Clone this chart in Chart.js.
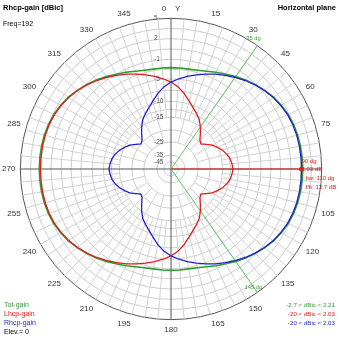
<!DOCTYPE html>
<html>
<head>
<meta charset="utf-8">
<script src="https://cdn.jsdelivr.net/npm/chart.js@4.4.1/dist/chart.umd.min.js"></script>
<style>
  html, body { margin: 0; padding: 0; background: #fff; }
  #wrap { width: 339px; height: 339px; }
</style>
</head>
<body>
<div id="wrap"><canvas id="polar" width="339" height="339"></canvas></div>
<script>
// Azimuth, one spoke every 5 degrees (0 = north, clockwise)
const angles = Array.from({ length: 72 }, (_, i) => i * 5);

// Gains in dBic, one value per azimuth step
const rhcpGain = [
  -5.7, -4.9, -4.2, -3.5, -2.8, -2.0, -1.3, -0.7, -0.15, 0.35, 0.8, 1.2,
  1.5, 1.75, 1.9, 1.98, 2.02, 2.03, 2.03, 2.03, 2.02, 1.98, 1.9, 1.75,
  1.5, 1.2, 0.8, 0.35, -0.15, -0.7, -1.3, -2.0, -2.8, -3.5, -4.2, -4.9,
  -5.7, -6.7, -8.0, -9.4, -10.8, -12.1, -13.4, -15.2, -17.4, -19.3, -20, -18.5,
  -16.6, -15.2, -14.0, -13.1, -12.4, -12.0, -11.7, -12.0, -12.4, -13.1, -14.0, -15.2,
  -16.6, -18.5, -20, -19.3, -17.4, -15.2, -13.4, -12.1, -10.8, -9.4, -8.0, -6.7
];
const lhcpGain = [
  -5.7, -6.7, -8.0, -9.4, -10.8, -12.1, -13.4, -15.2, -17.4, -19.3, -20, -18.5,
  -16.6, -15.2, -14.0, -13.1, -12.4, -12.0, -11.7, -12.0, -12.4, -13.1, -14.0, -15.2,
  -16.6, -18.5, -20, -19.3, -17.4, -15.2, -13.4, -12.1, -10.8, -9.4, -8.0, -6.7,
  -5.7, -4.9, -4.2, -3.5, -2.8, -2.0, -1.3, -0.7, -0.15, 0.35, 0.8, 1.2,
  1.5, 1.75, 1.9, 1.98, 2.02, 2.03, 2.03, 2.03, 2.02, 1.98, 1.9, 1.75,
  1.5, 1.2, 0.8, 0.35, -0.15, -0.7, -1.3, -2.0, -2.8, -3.5, -4.2, -4.9
];
const totGain = [
  -2.7, -2.7, -2.69, -2.51, -2.16, -1.59, -1.04, -0.55, -0.07, 0.4, 0.84, 1.25,
  1.57, 1.84, 2.01, 2.11, 2.17, 2.2, 2.21, 2.2, 2.17, 2.11, 2.01, 1.84,
  1.57, 1.25, 0.84, 0.4, -0.07, -0.55, -1.04, -1.59, -2.16, -2.51, -2.69, -2.7,
  -2.7, -2.7, -2.69, -2.51, -2.16, -1.59, -1.04, -0.55, -0.07, 0.4, 0.84, 1.25,
  1.57, 1.84, 2.01, 2.11, 2.17, 2.2, 2.21, 2.2, 2.17, 2.11, 2.01, 1.84,
  1.57, 1.25, 0.84, 0.4, -0.07, -0.55, -1.04, -1.59, -2.16, -2.51, -2.69, -2.7
];

// Grid circles and the ones that carry a label
const ringValues = [-45, -35, -25, -20, -15, -12.5, -10, -7.5, -5, -3, -1, 0.5, 2, 3.5, 5];
const ringLabels = [5, 2, -1, -5, -10, -15, -25, -35, -45];

// Main lobe marker and 3 dB beamwidth edges
const markerAngle = 90;
const markerGain = 2.03;
const beamEdges = [35, 145];
const markerText = ['90 dg', '2.03 dB', 'bw: 110 dg', 'f/b: 13.7 dB'];

const legendLeft = [
  { text: 'Tot-gain', color: '#3a9a3a' },
  { text: 'Lhcp-gain', color: '#d82020' },
  { text: 'Rhcp-gain', color: '#2828c8' },
  { text: 'Elev.= 0', color: '#000' }
];
const legendRight = [
  { text: '-2.7 < dBic < 2.21', color: '#3a9a3a' },
  { text: '-20 < dBic < 2.03', color: '#d82020' },
  { text: '-20 < dBic < 2.03', color: '#2828c8' }
];

const FONT = '"Liberation Sans", Arial, sans-serif';

// Log-like dB radius law of the polar grid (fraction of outer radius)
const dbStops = [-60, -45, -35, -25, -20, -15, -10, -5, -1, 2, 5];
const fracStops = [0, 0.047, 0.093, 0.18, 0.26, 0.343, 0.448, 0.598, 0.728, 0.865, 1];

function dbToFrac(v) {
    if (v <= dbStops[0]) return 0;
    for (let i = 1; i < dbStops.length; i++) {
        if (v <= dbStops[i]) {
            const t = (v - dbStops[i - 1]) / (dbStops[i] - dbStops[i - 1]);
            return fracStops[i - 1] + t * (fracStops[i] - fracStops[i - 1]);
        }
    }
    return 1;
}

class DbRadialScale extends Chart.RadialLinearScale {
    getDistanceFromCenterForValue(value) {
        if (value === null || isNaN(value)) return 0;
        return this.drawingArea * dbToFrac(value);
    }
}
DbRadialScale.id = 'radialDb';
DbRadialScale.defaults = Chart.RadialLinearScale.defaults;
Chart.register(DbRadialScale);

function txt(ctx, s, x, y, color, align, font) {
    ctx.fillStyle = color;
    ctx.textAlign = align;
    ctx.textBaseline = 'middle';
    ctx.font = font;
    ctx.fillText(s, x, y);
}

// Beamwidth edges under the curves, marker and texts on top
const guides = {
    id: 'guides',
    beforeDatasetsDraw(chart) {
        const ctx = chart.ctx;
        const r = chart.scales.r;
        ctx.save();
        ctx.lineWidth = 1;
        ctx.strokeStyle = '#5fc85f';
        beamEdges.forEach(a => {
            const p = r.getPointPositionForValue(a / 5, 5);
            ctx.beginPath();
            ctx.moveTo(r.xCenter, r.yCenter);
            ctx.lineTo(p.x, p.y);
            ctx.stroke();
        });
        ctx.restore();
    },
    afterDatasetsDraw(chart) {
        const ctx = chart.ctx;
        const r = chart.scales.r;
        ctx.save();
        const m = r.getPointPositionForValue(markerAngle / 5, markerGain);
        ctx.strokeStyle = '#e02020';
        ctx.lineWidth = 1;
        ctx.beginPath();
        ctx.moveTo(r.xCenter, r.yCenter);
        ctx.lineTo(m.x, m.y);
        ctx.stroke();
        ctx.fillStyle = '#e02020';
        ctx.beginPath();
        ctx.arc(m.x, m.y, 2.5, 0, Math.PI * 2);
        ctx.fill();

        // ring values along the north axis
        ringLabels.forEach(v => {
            const y = r.yCenter - r.getDistanceFromCenterForValue(v);
            txt(ctx, String(v), r.xCenter - 17, y, '#555', 'left', '6.5px ' + FONT);
        });

        // beam edge tags
        beamEdges.forEach(a => {
            const p = r.getPointPositionForValue(a / 5, 5);
            const dy = a < 90 ? -7 : -5;
            txt(ctx, a + ' dg', p.x - 4, p.y + dy, '#3a9a3a', 'center', '5.8px ' + FONT);
        });

        // marker readout
        markerText.forEach((s, i) => {
            const x = i < 2 ? m.x : m.x + 4;
            txt(ctx, s, x, m.y - 8 + i * 8.8, '#d82020', 'left', '6px ' + FONT);
        });

        txt(ctx, 'Rhcp-gain [dBic]', 3, 8, '#000', 'left', 'bold 7.5px ' + FONT);
        txt(ctx, 'Freq=192', 3, 24, '#000', 'left', '7px ' + FONT);
        txt(ctx, 'Horizontal plane', 336, 8, '#000', 'right', 'bold 7.5px ' + FONT);

        legendLeft.forEach((l, i) => txt(ctx, l.text, 4, 305.5 + i * 9, l.color, 'left', '7px ' + FONT));
        legendRight.forEach((l, i) => txt(ctx, l.text, 335, 305.5 + i * 9, l.color, 'right', '6.2px ' + FONT));
        ctx.restore();
    }
};

new Chart(document.getElementById('polar'), {
    type: 'radar',
    data: {
        labels: angles,
        datasets: [
            { label: 'Rhcp-gain', data: rhcpGain, borderColor: '#2020d0', borderWidth: 1.3 },
            { label: 'Lhcp-gain', data: lhcpGain, borderColor: '#e01c1c', borderWidth: 1.3 },
            { label: 'Tot-gain', data: totGain, borderColor: '#2e9a2e', borderWidth: 1.6 }
        ]
    },
    options: {
        responsive: false,
        animation: false,
        devicePixelRatio: 1,
        elements: {
            point: { radius: 0, hoverRadius: 0 },
            line: { fill: false, tension: 0 }
        },
        plugins: {
            legend: { display: false },
            tooltip: { enabled: false }
        },
        scales: {
            r: {
                type: 'radialDb',
                min: -60,
                max: 5,
                startAngle: 0,
                afterBuildTicks: (scale) => {
                    scale.ticks = ringValues.map(v => ({ value: v }));
                },
                ticks: { display: false },
                grid: {
                    circular: true,
                    color: (c) => (c.tick && c.tick.value === 5 ? '#555' : '#cdcdcd'),
                    lineWidth: 1
                },
                angleLines: {
                    color: (c) => (c.index % 18 === 0 ? '#555' : '#d2d2d2'),
                    lineWidth: 1,
                    borderDash: (c) => {
                        if (c.index % 18 === 0) return [];
                        const start = c.scale.getDistanceFromCenterForValue(c.index % 3 === 0 ? -25 : -15);
                        return [0, start, 1000, 0];
                    }
                },
                pointLabels: {
                    font: { family: FONT, size: 8 },
                    color: (c) => (c.index === 18 ? 'rgba(0,0,0,0)' : '#333'),
                    padding: 5,
                    callback: (label) => {
                        if (label % 15 !== 0) return '';
                        return label === 0 ? '0    Y' : String(label);
                    }
                }
            }
        }
    },
    plugins: [guides]
});
</script>
</body>
</html>
